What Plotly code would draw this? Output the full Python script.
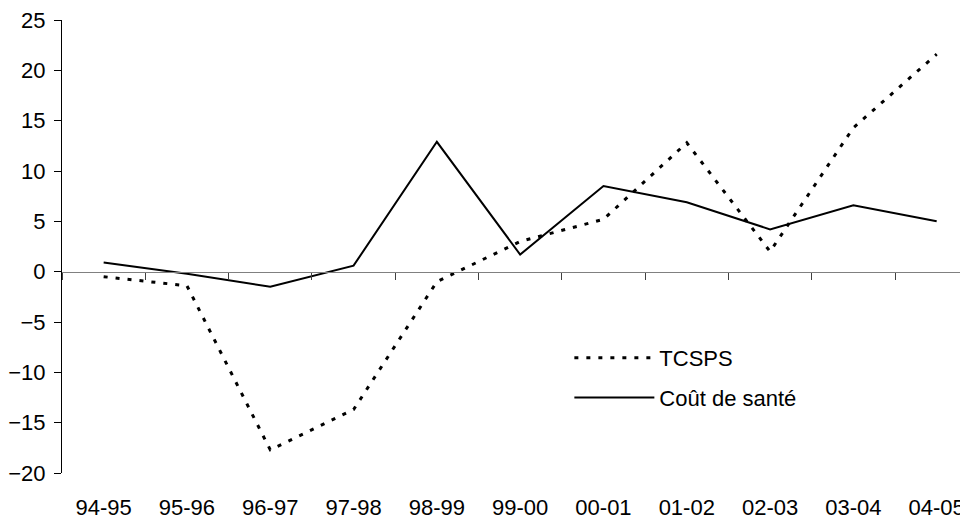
import plotly.graph_objects as go

periods = ["94-95", "95-96", "96-97", "97-98", "98-99", "99-00",
           "00-01", "01-02", "02-03", "03-04", "04-05"]
tcsps = [-0.5, -1.4, -17.7, -13.7, -1.0, 3.0, 5.2, 12.8, 2.0, 14.3, 21.6]
cout_sante = [0.9, -0.2, -1.5, 0.6, 12.9, 1.7, 8.5, 6.9, 4.2, 6.6, 5.0]
y_ticks = [-20, -15, -10, -5, 0, 5, 10, 15, 20, 25]

FONT = "Liberation Sans, Arial, sans-serif"
x_range = [-0.5, 10.376]

fig = go.Figure()
fig.add_trace(go.Scatter(
    x=periods, y=tcsps, mode="lines", name="TCSPS",
    line={"color": "black", "width": 3, "dash": "4px,8px"},
    legend="legend",
))
fig.add_trace(go.Scatter(
    x=periods, y=cout_sante, mode="lines", name="Coût de santé",
    line={"color": "black", "width": 2},
    legend="legend2",
))
# invisible copy so the bottom label axis gets drawn
fig.add_trace(go.Scatter(
    x=periods, y=cout_sante, mode="lines", xaxis="x2",
    line={"color": "rgba(0,0,0,0)"}, showlegend=False, hoverinfo="skip",
))

# page body has an 8px margin, so the figure is 960x512
fig.update_layout(
    width=960, height=512,
    margin={"l": 54, "r": 0, "t": 12, "b": 47, "autoexpand": False},
    plot_bgcolor="white", paper_bgcolor="white",
    font={"family": FONT, "size": 22, "color": "black"},
    xaxis={
        "type": "category", "range": x_range, "automargin": False,
        "anchor": "free", "position": 20 / 45,
        "showline": True, "linecolor": "#808080", "linewidth": 1,
        "ticks": "outside", "ticklen": 7, "tickcolor": "#404040",
        "tickson": "boundaries", "showticklabels": False,
        "showgrid": False, "zeroline": False,
    },
    xaxis2={
        "type": "category", "range": x_range, "overlaying": "x",
        "anchor": "y", "side": "bottom", "automargin": False,
        "showline": False, "ticks": "", "showgrid": False, "zeroline": False,
        "ticklabelstandoff": 19, "ticklabeloverflow": "allow",
    },
    yaxis={
        "range": [-20, 25], "tickvals": y_ticks, "automargin": False,
        "showline": True, "linecolor": "black", "linewidth": 1,
        "ticks": "outside", "ticklen": 7, "tickcolor": "black",
        "showgrid": False, "zeroline": False,
        "ticklabelstandoff": 4, "ticklabeloverflow": "allow",
    },
    legend={
        "x": 0.56, "y": 0.254, "xanchor": "left", "yanchor": "middle",
        "bgcolor": "rgba(0,0,0,0)", "font": {"size": 22},
        "itemwidth": 80,
    },
    legend2={
        "x": 0.56, "y": 0.166, "xanchor": "left", "yanchor": "middle",
        "bgcolor": "rgba(0,0,0,0)", "font": {"size": 22},
        "itemwidth": 80,
    },
)

fig.write_html("out.html")
